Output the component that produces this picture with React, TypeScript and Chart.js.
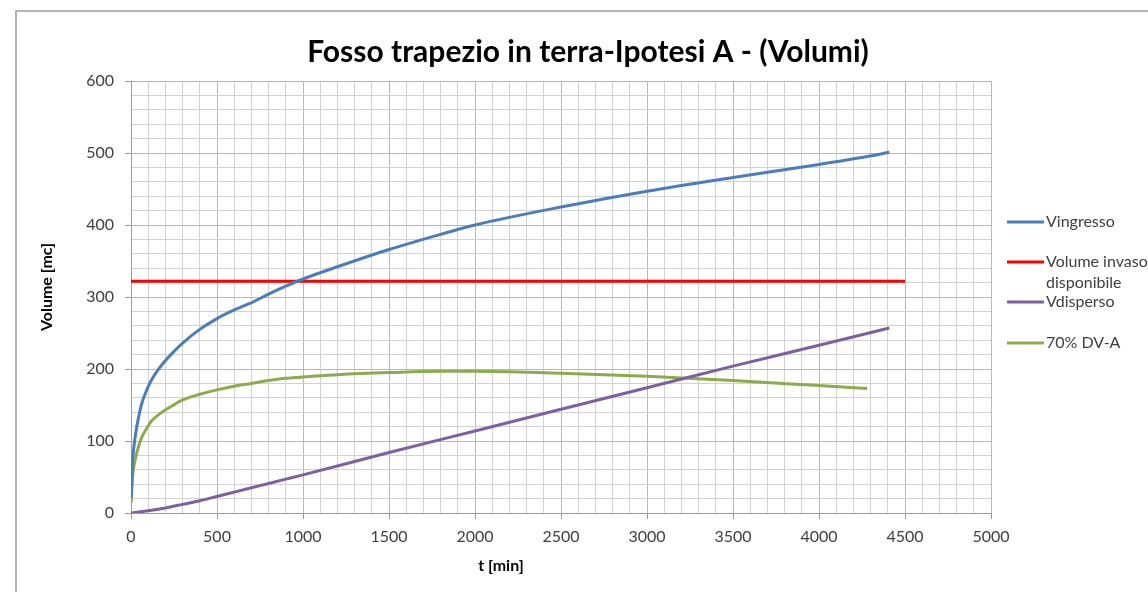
import React, { useEffect, useRef } from "react";
import { Chart, registerables } from "chart.js";

Chart.register(...registerables);

const TITLE = "Fosso trapezio in terra-Ipotesi A - (Volumi)";
const X_TITLE = "t [min]";
const Y_TITLE = "Volume [mc]";

const ingressoT = [2, 5, 10, 15, 20, 30, 45, 60, 90, 120, 180, 240, 300, 400, 500, 600, 680, 700, 800, 900, 1000, 1200, 1500, 1800, 2000, 2500, 3000, 3500, 4000, 4280, 4409];
const ingressoV = [22, 52, 75, 88, 98, 115, 134, 150, 170, 185, 206, 222, 236, 255, 270, 282, 290, 292, 304, 315, 325, 342, 366, 387, 400, 425, 447, 466, 484, 495, 501];

const dvT = [2, 5, 10, 15, 20, 30, 45, 60, 90, 120, 180, 240, 300, 400, 500, 600, 700, 800, 900, 1000, 1200, 1500, 1800, 2000, 2500, 3000, 3500, 4000, 4280];
const dvV = [15, 36, 52, 62, 69, 80, 93, 104, 117, 128, 140, 149, 157, 165, 171, 176, 180, 184, 187, 189, 192, 195, 197, 197, 194, 190, 184, 177, 173];

const dispersoT = [0, 100, 200, 300, 400, 500, 600, 700, 800, 900, 1000, 1500, 2000, 2500, 3000, 3500, 4000, 4409];
const dispersoV = [0, 3, 7, 12, 17, 23, 29, 35, 41, 47, 53, 84, 114, 144, 174, 204, 233, 257];

const invasoT = [0, 4500];
const invasoV = [322, 322];

const LEGEND = [
  { lines: ["Vingresso"], color: "#4a7ebb" },
  { lines: ["Volume invaso", "disponibile"], color: "#ff0000" },
  { lines: ["Vdisperso"], color: "#7d60a0" },
  { lines: ["70% DV-A"], color: "#8cac4c" },
];

const FONT = "Lato, 'Open Sans', sans-serif";

function pts(t: number[], v: number[]) {
  return t.map((x, i) => ({ x, y: v[i] }));
}

const decor = {
  id: "decor",
  beforeDraw(chart: any) {
    const c = chart.ctx;
    c.save();
    c.fillStyle = "#ffffff";
    c.fillRect(0, 0, chart.width, chart.height);
    c.strokeStyle = "#b4b4b4";
    c.lineWidth = 2;
    c.beginPath();
    c.moveTo(16, 600);
    c.lineTo(16, 11);
    c.lineTo(1160, 11);
    c.stroke();
    c.restore();
  },
  afterDraw(chart: any) {
    const c = chart.ctx;
    c.save();
    c.fillStyle = "#000000";
    c.font = `bold 30px ${FONT}`;
    c.textAlign = "center";
    c.textBaseline = "alphabetic";
    c.fillText(TITLE, 588, 62);

    c.font = `bold 16px ${FONT}`;
    c.textBaseline = "middle";
    c.fillText(X_TITLE, 501, 566);
    c.save();
    c.translate(47, 287);
    c.rotate(-Math.PI / 2);
    c.fillText(Y_TITLE, 0, 0);
    c.restore();

    c.font = `16px ${FONT}`;
    c.textAlign = "left";
    c.fillStyle = "#404040";
    const ys = [222, 262, 302, 343];
    LEGEND.forEach((e, i) => {
      const y = ys[i];
      c.strokeStyle = e.color;
      c.lineWidth = 3;
      c.beginPath();
      c.moveTo(1007, y);
      c.lineTo(1044, y);
      c.stroke();
      e.lines.forEach((ln, j) => c.fillText(ln, 1046, y + j * 21));
    });
    c.restore();
  },
};

export default function App() {
  const ref = useRef<HTMLCanvasElement>(null);
  useEffect(() => {
    if (!ref.current) return;
    const gridColor = (step: number) => (ctx: any) =>
      ctx.tick && Math.round(ctx.tick.value) % step === 0 ? "#b8b8b8" : "#d2d2d2";
    const tickColor = (step: number) => (ctx: any) =>
      ctx.tick && Math.round(ctx.tick.value) % step === 0 ? "#9a9a9a" : "rgba(0,0,0,0)";
    const line = (label: string, data: any, color: string) => ({
      label,
      data,
      borderColor: color,
      backgroundColor: color,
      borderWidth: 3,
      pointRadius: 0,
      fill: false,
      cubicInterpolationMode: "monotone" as const,
    });
    const chart = new Chart(ref.current, {
      type: "line",
      data: {
        datasets: [
          line("Vingresso", pts(ingressoT, ingressoV), "#4a7ebb"),
          line("Volume invaso disponibile", pts(invasoT, invasoV), "#ff0000"),
          line("Vdisperso", pts(dispersoT, dispersoV), "#7d60a0"),
          line("70% DV-A", pts(dvT, dvV), "#8cac4c"),
        ],
      },
      options: {
        animation: false,
        responsive: false,
        devicePixelRatio: 1,
        layout: { padding: { left: 0, right: 157, top: 81, bottom: 0 } },
        plugins: { legend: { display: false }, title: { display: false }, tooltip: { enabled: false } },
        scales: {
          x: {
            type: "linear",
            min: 0,
            max: 5000,
            afterFit: (s: any) => { s.height = 79; },
            ticks: {
              stepSize: 100,
              autoSkip: false,
              maxRotation: 0,
              padding: 8,
              color: "#404040",
              font: { family: FONT, size: 16 },
              callback: (v: any) => (Math.round(v) % 500 === 0 ? String(v) : ""),
            },
            grid: { color: gridColor(500), tickColor: tickColor(500), tickLength: 6, lineWidth: 1 },
            border: { color: "#9a9a9a", width: 1 },
          },
          y: {
            type: "linear",
            min: 0,
            max: 600,
            afterFit: (s: any) => { s.width = 131; },
            ticks: {
              stepSize: 20,
              autoSkip: false,
              padding: 11,
              color: "#404040",
              font: { family: FONT, size: 16 },
              callback: (v: any) => (Math.round(v) % 100 === 0 ? String(v) : ""),
            },
            grid: { color: gridColor(100), tickColor: tickColor(100), tickLength: 6, lineWidth: 1 },
            border: { color: "#9a9a9a", width: 1 },
          },
        },
      },
      plugins: [decor],
    });
    return () => chart.destroy();
  }, []);
  return (
    <canvas
      ref={ref}
      width={1148}
      height={592}
      style={{ position: "fixed", left: 0, top: 0, width: 1148, height: 592 }}
    />
  );
}
